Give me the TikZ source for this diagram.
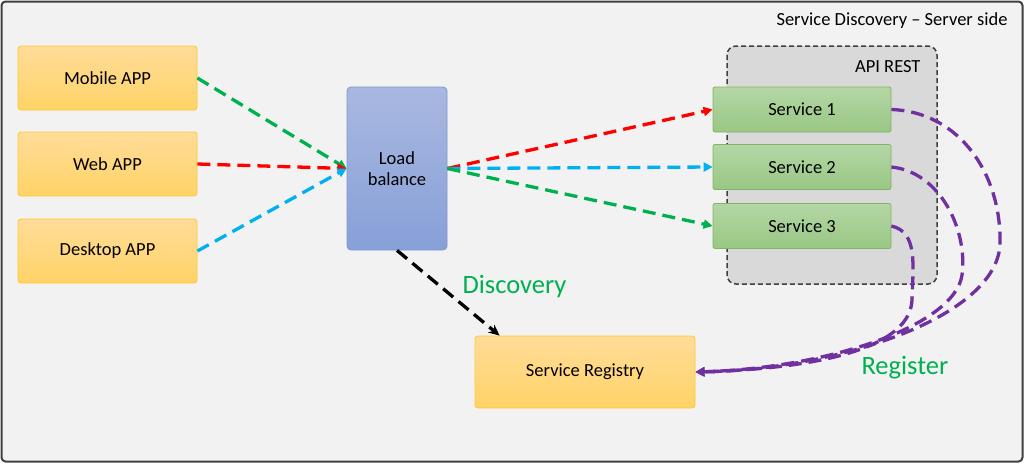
\documentclass[tikz,border=0pt]{standalone}
\usepackage{fontspec}
\setmainfont{Carlito}
\usetikzlibrary{arrows.meta}
\definecolor{bgc}{HTML}{F2F2F2}
\definecolor{framec}{HTML}{404040}
\definecolor{ytop}{HTML}{FFDC99}
\definecolor{ybot}{HTML}{FFD366}
\definecolor{ybord}{HTML}{FFC830}
\definecolor{btop}{HTML}{A9B8E0}
\definecolor{bbot}{HTML}{87A0D8}
\definecolor{bbord}{HTML}{7F96D0}
\definecolor{gtop}{HTML}{B4D7A5}
\definecolor{gbot}{HTML}{99C784}
\definecolor{gbord}{HTML}{82B366}
\definecolor{apic}{HTML}{D9D9D9}
\definecolor{cgreen}{HTML}{00B050}
\definecolor{cred}{HTML}{FF0000}
\definecolor{cblue}{HTML}{00B0F0}
\definecolor{cpurple}{HTML}{7030A0}
\tikzset{
  boxfont/.style={font=\fontsize{18.5}{21}\selectfont},
  appbox/.style={draw=ybord, line width=0.8pt, top color=ytop, bottom color=ybot, rounded corners=3pt, minimum width=179pt, minimum height=64pt, boxfont, inner sep=0pt},
  lbbox/.style={draw=bbord, line width=0.8pt, top color=btop, bottom color=bbot, rounded corners=4pt, minimum width=100pt, minimum height=163pt, boxfont, align=center, inner sep=0pt},
  svcbox/.style={draw=gbord, line width=0.8pt, top color=gtop, bottom color=gbot, rounded corners=2pt, minimum width=178pt, minimum height=45pt, boxfont, inner sep=0pt},
  flow/.style={line width=3.3pt, dash pattern=on 13pt off 7pt, -{Triangle[length=9pt,width=9pt]}},
  reg/.style={flow, cpurple},
  biglabel/.style={anchor=base west, text=cgreen, font=\fontsize{26.5}{30}\selectfont},
}
\begin{document}
\begin{tikzpicture}[x=1pt,y=-1pt]
\useasboundingbox (0,0) rectangle (1024,463);
\draw[framec, line width=2pt, fill=bgc, rounded corners=4pt] (1.5,1.5) rectangle (1022.5,461.5);
\node[anchor=base east, boxfont] (title) at (1011,25) {Service Discovery – Server side};
% API REST container
\draw[black!75, line width=1.5pt, dash pattern=on 5pt off 3pt, fill=apic, rounded corners=9pt] (727,46) rectangle (937,284);
\node[anchor=base east, boxfont] (api) at (924,72) {API REST};
% apps
\node[appbox] (mob) at (107.5,78) {Mobile APP};
\node[appbox] (web) at (107.5,164) {Web APP};
\node[appbox] (desk) at (107.5,251) {Desktop APP};
\node[lbbox] (lb) at (397,168.5) {Load\\balance};
\node[svcbox] (s1) at (802,109.5) {Service 1};
\node[svcbox] (s2) at (802,167) {Service 2};
\node[svcbox] (s3) at (802,226) {Service 3};
\node[appbox, minimum width=220pt, minimum height=72pt] (sr) at (585,372) {Service Registry};
% labels
\node[biglabel] (disc) at (459,293) {Discovery};
\node[biglabel] (regl) at (858,374) {Register};
% arrows in
\draw[flow, cgreen] (mob.east) -- (lb.west);
\draw[flow, cred] (web.east) -- (lb.west);
\draw[flow, cblue] (desk.east) -- (lb.west);
% arrows out
\draw[flow, cred] (lb.east) -- (s1.west);
\draw[flow, cblue] (lb.east) -- (s2.west);
\draw[flow, cgreen] (lb.east) -- (s3.west);
% discovery
\draw[flow, black, -{Stealth[length=11pt,width=10pt]}] (lb.south) -- ([xshift=25pt]sr.north west);
% register
\draw[reg] (s1.east) .. controls (960,112) and (1002,175) .. (1000,245) .. controls (995,320) and (830,370) .. (sr.east);
\draw[reg] (s2.east) .. controls (940,172) and (968,230) .. (962,275) .. controls (955,325) and (830,368) .. (sr.east);
\draw[reg] (s3.east) .. controls (918,232) and (913,265) .. (912,300) .. controls (910,345) and (830,368) .. (sr.east);
\end{tikzpicture}
\end{document}
